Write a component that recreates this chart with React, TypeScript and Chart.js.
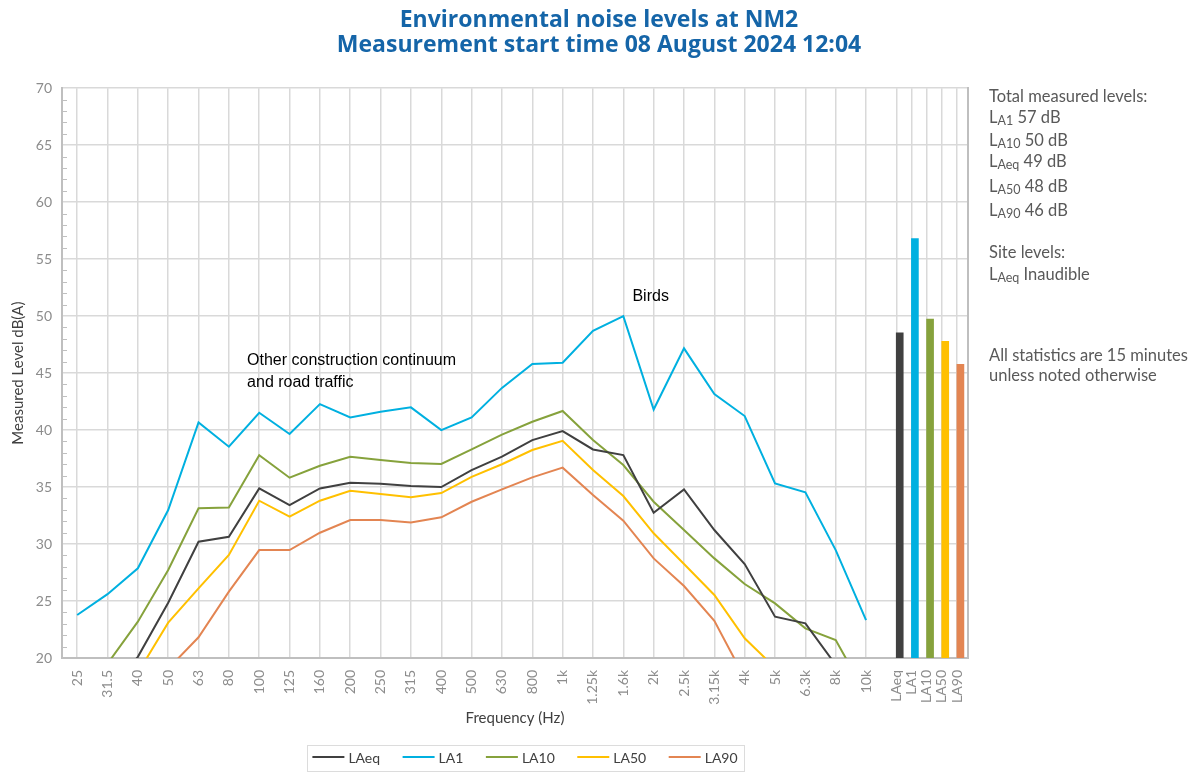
import React, { useEffect, useRef } from 'react';
import { Chart, registerables } from 'chart.js';

Chart.register(...registerables);

// ---------- data ----------
const titleLines = ['Environmental noise levels at NM2', 'Measurement start time 08 August 2024 12:04'];

const frequencyLabels = ['25', '31.5', '40', '50', '63', '80', '100', '125', '160', '200', '250', '315', '400', '500', '630', '800', '1k', '1.25k', '1.6k', '2k', '2.5k', '3.15k', '4k', '5k', '6.3k', '8k', '10k'];
const totalLabels = ['LAeq', 'LA1', 'LA10', 'LA50', 'LA90'];
const totalPositions = [27, 27.5, 28, 28.5, 29];

const seriesNames = ['LAeq', 'LA1', 'LA10', 'LA50', 'LA90'];
const seriesColors = ['#404040', '#00B0E0', '#86A23C', '#FFC000', '#E38552'];

const laeqSpectrum = [null, 17, 20.1, 24.85, 30.2, 30.64, 34.88, 33.42, 34.88, 35.38, 35.29, 35.09, 35.0, 36.49, 37.66, 39.12, 39.91, 38.3, 37.8, 32.75, 34.79, 31.23, 28.25, 23.63, 23.04, 19.4, null];
const la1Spectrum = [23.77, 25.6, 27.87, 32.98, 40.67, 38.54, 41.52, 39.65, 42.28, 41.11, 41.6, 41.99, 40.0, 41.11, 43.7, 45.79, 45.9, 48.7, 50.0, 41.8, 47.17, 43.16, 41.23, 35.32, 34.53, 29.47, 23.33];
const la10Spectrum = [null, 19.5, 23.19, 27.72, 33.13, 33.2, 37.8, 35.82, 36.87, 37.66, 37.37, 37.1, 37.02, 38.3, 39.6, 40.73, 41.67, 39.12, 36.93, 33.71, 31.23, 28.74, 26.49, 24.79, 22.6, 21.58, 16.8];
const la50Spectrum = [null, null, 18.7, 23.1, 26.11, 29.04, 33.8, 32.4, 33.8, 34.68, 34.39, 34.1, 34.47, 35.9, 37.0, 38.25, 39.06, 36.49, 34.21, 30.94, 28.25, 25.53, 21.73, 19.15, null, null, null];
const la90Spectrum = [null, null, null, 19.06, 21.82, 25.82, 29.47, 29.47, 30.99, 32.1, 32.1, 31.9, 32.34, 33.71, 34.8, 35.85, 36.7, 34.3, 32.05, 28.74, 26.32, 23.27, 18.24, null, null, null, null];

const totalLevels = [48.54, 56.81, 49.74, 47.78, 45.76];

const yMin = 20;
const yMax = 70;
const yStep = 5;

const annotationTexts = [['Other construction continuum', 'and road traffic'], ['Birds']];
const annotationX = [5.6, 18.3];
const annotationY = [46.1, 51.7];

// right-hand notes: [prefix, subscript, rest]
const panelLines: [string, string, string][] = [
  ['Total measured levels:', '', ''],
  ['L', 'A1', ' 57 dB'],
  ['L', 'A10', ' 50 dB'],
  ['L', 'Aeq', ' 49 dB'],
  ['L', 'A50', ' 48 dB'],
  ['L', 'A90', ' 46 dB'],
  ['Site levels:', '', ''],
  ['L', 'Aeq', ' Inaudible'],
  ['All statistics are 15 minutes', '', ''],
  ['unless noted otherwise', '', ''],
];
const panelBaselines = [102, 123, 146, 167, 192, 216, 258, 280, 361, 381];

// ---------- helpers ----------
const spectra = [laeqSpectrum, la1Spectrum, la10Spectrum, la50Spectrum, la90Spectrum];
const tickPositions = [...frequencyLabels.map((_, i) => i), ...totalPositions];
const tickLabels = [...frequencyLabels, ...totalLabels];
const barShift = 0.11;

const extrasPlugin = {
  id: 'extras',
  beforeDatasetsDraw(chart: any) {
    const { ctx, chartArea, scales } = chart;
    ctx.save();
    ctx.strokeStyle = '#bfbfbf';
    ctx.lineWidth = 1;
    for (let v = yMin + 1; v < yMax; v++) {
      if (v % yStep === 0) continue;
      const y = Math.round(scales.y.getPixelForValue(v)) + 0.5;
      ctx.beginPath();
      ctx.moveTo(chartArea.left, y);
      ctx.lineTo(chartArea.left + 5, y);
      ctx.stroke();
    }
    ctx.restore();
  },
  afterDraw(chart: any) {
    const { ctx, chartArea, scales } = chart;
    ctx.save();
    // annotations
    ctx.fillStyle = '#000000';
    ctx.font = '16px "Liberation Sans", Arial, sans-serif';
    ctx.textBaseline = 'middle';
    ctx.textAlign = 'left';
    annotationTexts.forEach((lines, i) => {
      const x = scales.x.getPixelForValue(annotationX[i]);
      const y = scales.y.getPixelForValue(annotationY[i]);
      lines.forEach((t, j) => ctx.fillText(t, x, y + j * 22));
    });

    // right-hand notes
    ctx.textBaseline = 'alphabetic';
    ctx.fillStyle = '#595959';
    const px = chartArea.right + 21;
    panelLines.forEach(([pre, sub, rest], i) => {
      const base = panelBaselines[i];
      let x = px;
      ctx.font = '16.5px Lato';
      ctx.fillText(pre, x, base);
      x += ctx.measureText(pre).width;
      if (sub) {
        ctx.font = '12.5px Lato';
        ctx.fillText(sub, x, base + 2);
        x += ctx.measureText(sub).width;
      }
      if (rest) {
        ctx.font = '16.5px Lato';
        ctx.fillText(rest, x, base);
      }
    });

    // boxed legend
    const lineSets = chart.data.datasets.filter((d: any) => d.type === 'line');
    ctx.font = '14px Lato';
    const sample = 32;
    const gapText = 4;
    const gapItem = 22.5;
    const widths = lineSets.map((d: any) => ctx.measureText(d.label).width);
    const total = widths.reduce((a: number, w: number) => a + sample + gapText + w, 0) + gapItem * (lineSets.length - 1);
    const cx = (chartArea.left + chartArea.right) / 2 + 10;
    let x = cx - total / 2;
    const ly = chart.height - 15;
    ctx.strokeStyle = '#dcdcdc';
    ctx.lineWidth = 1;
    ctx.strokeRect(Math.round(x - 5) + 0.5, ly - 11.5, Math.round(total + 12), 26);
    ctx.textBaseline = 'middle';
    lineSets.forEach((d: any, i: number) => {
      ctx.strokeStyle = d.borderColor;
      ctx.lineWidth = 2;
      ctx.beginPath();
      ctx.moveTo(x, ly);
      ctx.lineTo(x + sample, ly);
      ctx.stroke();
      ctx.fillStyle = '#404040';
      ctx.fillText(d.label, x + sample + gapText, ly + 1);
      x += sample + gapText + widths[i] + gapItem;
    });
    ctx.restore();
  },
};

export default function App() {
  const canvasRef = useRef<HTMLCanvasElement | null>(null);

  useEffect(() => {
    if (!canvasRef.current) return;
    Chart.defaults.font.family = 'Lato, "Open Sans", sans-serif';

    const lineDatasets = spectra.map((values, k) => ({
      type: 'line' as const,
      label: seriesNames[k],
      data: values.map((v, i) => ({ x: i, y: v })),
      borderColor: seriesColors[k],
      backgroundColor: seriesColors[k],
      borderWidth: 2,
      pointRadius: 0,
      tension: 0,
      spanGaps: false,
      xAxisID: 'x',
      yAxisID: 'y',
    }));

    const barDataset = {
      type: 'bar' as const,
      label: 'Total',
      data: totalLevels.map((v, i) => ({ x: totalPositions[i] + barShift, y: v })),
      backgroundColor: seriesColors,
      borderWidth: 0,
      barThickness: 7,
      xAxisID: 'x',
      yAxisID: 'y',
    };

    const chart = new Chart(canvasRef.current, {
      type: 'line',
      data: { datasets: [...lineDatasets, barDataset] as any },
      options: {
        responsive: false,
        animation: false,
        events: [],
        layout: { padding: { left: 6, right: 0, top: 0, bottom: 44 } },
        plugins: {
          legend: { display: false },
          tooltip: { enabled: false },
          title: {
            display: true,
            text: titleLines,
            color: '#1565A8',
            font: { family: '"Open Sans", sans-serif', size: 23, weight: 'bold', lineHeight: 1.09 },
            padding: { top: 8, bottom: 30 },
          },
        },
        scales: {
          x: {
            type: 'linear',
            min: -0.5,
            max: 29.36,
            offset: false,
            afterBuildTicks: (s: any) => {
              s.ticks = tickPositions.map((v) => ({ value: v }));
            },
            afterFit: (s: any) => {
              s.height = 70;
            },
            grid: { color: '#d9d9d9', lineWidth: 1.5, drawTicks: false, offset: false },
            border: { color: '#bfbfbf', width: 2 },
            ticks: {
              autoSkip: false,
              minRotation: 90,
              maxRotation: 90,
              padding: 12,
              color: '#8c8c8c',
              font: { size: 14 },
              callback: (_v: any, i: number) => tickLabels[i],
            },
            title: {
              display: true,
              text: 'Frequency (Hz)',
              color: '#404040',
              font: { size: 15 },
              padding: { top: 0, bottom: 1 },
            },
          },
          y: {
            type: 'linear',
            min: yMin,
            max: yMax,
            afterFit: (s: any) => {
              s.width = 56;
            },
            ticks: { stepSize: yStep, padding: 10, color: '#8c8c8c', font: { size: 14 } },
            grid: { color: '#d9d9d9', lineWidth: 1.5, drawTicks: false },
            border: { color: '#bfbfbf', width: 2 },
            title: {
              display: true,
              text: 'Measured Level dB(A)',
              color: '#404040',
              font: { size: 15 },
              padding: { top: 3, bottom: 0 },
            },
          },
          yRight: {
            type: 'linear',
            position: 'right',
            display: true,
            grid: { display: false },
            ticks: { display: false },
            border: { display: true, color: '#bfbfbf', width: 2 },
            afterFit: (s: any) => {
              s.width = 224;
            },
          },
        },
      } as any,
      plugins: [extrasPlugin],
    });

    return () => chart.destroy();
  }, []);

  return (
    <div style={{ position: 'absolute', left: 0, top: 0, width: 1192, height: 772, background: '#ffffff' }}>
      <canvas ref={canvasRef} width={1192} height={772} />
    </div>
  );
}
